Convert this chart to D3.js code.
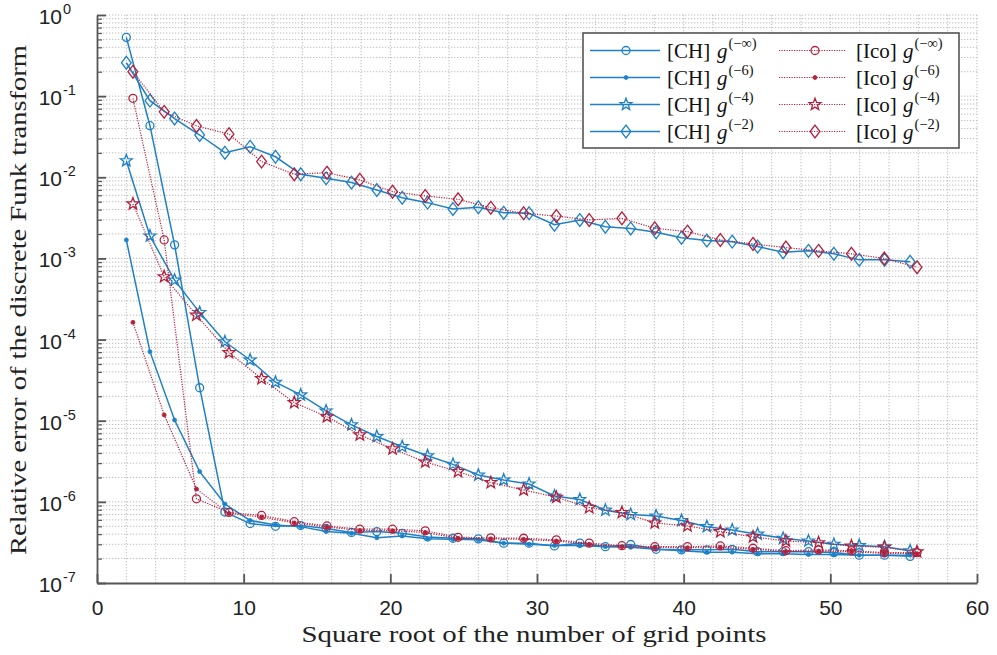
<!DOCTYPE html>
<html>
<head>
<meta charset="utf-8">
<script src="https://cdn.jsdelivr.net/npm/d3@7"></script>
<style>
  html, body { margin: 0; padding: 0; background: #fff; }
  svg { display: block; }
</style>
</head>
<body>
<svg id="chart" width="997" height="655"></svg>
<script>
// Abscissae: square root of the grid size for the two grid families
const xCH = [2.00, 3.61, 5.29, 7.00, 8.72, 10.44, 12.17, 13.89, 15.62, 17.35, 19.08, 20.81, 22.54, 24.27, 26.00, 27.73,
             29.46, 31.19, 32.92, 34.66, 36.39, 38.12, 39.85, 41.58, 43.31, 45.04, 46.78, 48.51, 50.24, 51.97, 53.70, 55.44];
const xIco = [2.45, 4.58, 6.78, 9.00, 11.22, 13.45, 15.68, 17.92, 20.15, 22.38, 24.62, 26.85, 29.09, 31.32, 33.56,
              35.79, 38.03, 40.26, 42.50, 44.73, 46.97, 49.20, 51.44, 53.68, 55.91];

// Relative errors, CH grids
const chInf = [0.53, 0.0432, 1.47e-3, 2.55e-5, 7.5e-7, 5.4e-7, 5.0e-7, 5.1e-7, 4.7e-7, 4.2e-7, 4.3e-7, 4.1e-7, 3.7e-7,
               3.56e-7, 3.5e-7, 3.1e-7, 3.1e-7, 2.86e-7, 3.1e-7, 2.8e-7, 2.98e-7, 2.6e-7, 2.56e-7, 2.56e-7, 2.6e-7,
               2.43e-7, 2.43e-7, 2.43e-7, 2.37e-7, 2.2e-7, 2.2e-7, 2.13e-7];
const chG6 = [1.69e-3, 7.1e-5, 1.02e-5, 2.36e-6, 9.4e-7, 5.9e-7, 5.2e-7, 4.95e-7, 4.3e-7, 4.1e-7, 3.6e-7, 3.8e-7, 3.5e-7,
              3.45e-7, 3.4e-7, 3.1e-7, 3.0e-7, 2.9e-7, 2.9e-7, 2.8e-7, 2.75e-7, 2.6e-7, 2.5e-7, 2.4e-7, 2.4e-7,
              2.3e-7, 2.3e-7, 2.25e-7, 2.25e-7, 2.2e-7, 2.2e-7, 2.2e-7];
const chG4 = [0.016, 1.89e-3, 5.4e-4, 2.15e-4, 9.4e-5, 5.6e-5, 2.98e-5, 2.08e-5, 1.32e-5, 8.9e-6, 6.4e-6, 4.8e-6, 3.7e-6,
              2.9e-6, 2.14e-6, 1.86e-6, 1.66e-6, 1.18e-6, 1.07e-6, 7.9e-7, 7.0e-7, 6.7e-7, 5.9e-7, 4.95e-7, 4.5e-7,
              4.0e-7, 3.55e-7, 3.3e-7, 3.0e-7, 2.9e-7, 2.8e-7, 2.5e-7];
const chG2 = [0.258, 0.088, 0.053, 0.0332, 0.0201, 0.0238, 0.0179, 0.0109, 0.0097, 0.0086, 0.00697, 0.0056, 0.00487,
              0.00407, 0.00427, 0.00366, 0.0036, 0.0026, 0.00298, 0.00246, 0.00234, 0.0021, 0.0018, 0.00166, 0.00161,
              0.0014, 0.00119, 0.00124, 0.00114, 0.00096, 0.00096, 0.00091];

// Relative errors, icosahedral grids
const icoInf = [0.094, 1.69e-3, 1.09e-6, 7.4e-7, 6.8e-7, 5.7e-7, 5.05e-7, 4.6e-7, 4.6e-7, 4.4e-7, 3.66e-7, 3.6e-7,
                3.56e-7, 3.4e-7, 3.1e-7, 2.88e-7, 2.8e-7, 2.8e-7, 2.86e-7, 2.68e-7, 2.5e-7, 2.56e-7, 2.5e-7, 2.37e-7, 2.37e-7];
const icoG6 = [1.63e-4, 1.18e-5, 1.44e-6, 7.2e-7, 6.5e-7, 5.5e-7, 4.9e-7, 4.45e-7, 4.4e-7, 4.2e-7, 3.55e-7, 3.5e-7,
               3.45e-7, 3.3e-7, 3.0e-7, 2.8e-7, 2.75e-7, 2.72e-7, 2.75e-7, 2.6e-7, 2.45e-7, 2.48e-7, 2.42e-7, 2.32e-7, 2.3e-7];
const icoG4 = [4.7e-3, 5.96e-4, 2.0e-4, 6.9e-5, 3.3e-5, 1.67e-5, 1.12e-5, 6.7e-6, 4.5e-6, 3.1e-6, 2.36e-6, 1.73e-6,
               1.4e-6, 1.14e-6, 8.5e-7, 7.4e-7, 5.5e-7, 5.05e-7, 4.3e-7, 3.7e-7, 3.3e-7, 3.14e-7, 2.86e-7, 2.75e-7, 2.43e-7];
const icoG2 = [0.2, 0.064, 0.043, 0.034, 0.0156, 0.0109, 0.0114, 0.0093, 0.00665, 0.00589, 0.00535, 0.00422, 0.0036,
               0.00333, 0.00298, 0.00312, 0.00235, 0.00214, 0.00169, 0.00151, 0.00136, 0.00124, 0.00114, 0.001, 0.00078];

// Axis ticks
const xTicks = [0, 10, 20, 30, 40, 50, 60];
const xMinor = [2, 4, 6, 8, 12, 14, 16, 18, 22, 24, 26, 28, 32, 34, 36, 38, 42, 44, 46, 48, 52, 54, 56, 58];
const yExponents = [0, -1, -2, -3, -4, -5, -6, -7];

const BLUE = "#1f80c6";
const RED = "#b3203c";

const series = [
  { group: "[CH]",  exp: "−∞", x: xCH,  y: chInf,  color: BLUE, dotted: false, marker: "circle" },
  { group: "[CH]",  exp: "−6", x: xCH,  y: chG6,   color: BLUE, dotted: false, marker: "dot" },
  { group: "[CH]",  exp: "−4", x: xCH,  y: chG4,   color: BLUE, dotted: false, marker: "star" },
  { group: "[CH]",  exp: "−2", x: xCH,  y: chG2,   color: BLUE, dotted: false, marker: "diamond" },
  { group: "[Ico]", exp: "−∞", x: xIco, y: icoInf, color: RED,  dotted: true,  marker: "circle" },
  { group: "[Ico]", exp: "−6", x: xIco, y: icoG6,  color: RED,  dotted: true,  marker: "dot" },
  { group: "[Ico]", exp: "−4", x: xIco, y: icoG4,  color: RED,  dotted: true,  marker: "star" },
  { group: "[Ico]", exp: "−2", x: xIco, y: icoG2,  color: RED,  dotted: true,  marker: "diamond" }
];

(function draw() {
  const svg = d3.select("#chart");
  const pL = 97, pR = 977, pT = 15, pB = 583;
  const sans = "'Liberation Sans', Arial, Helvetica, sans-serif";
  const serif = "'Liberation Serif', 'Times New Roman', serif";

  const x = d3.scaleLinear().domain([0, 60]).range([pL, pR]);
  const y = d3.scaleLog().domain([1e-7, 1]).range([pB, pT]);

  const yMajor = yExponents.map(e => Math.pow(10, e));
  const yMinor = [];
  for (let e = -7; e < 0; e++) for (let m = 2; m <= 9; m++) yMinor.push(m * Math.pow(10, e));

  // Grid (dotted, both minor and major)
  const grid = svg.append("g").attr("class", "grid")
    .attr("stroke", "#bdbdbd").attr("stroke-width", 1).attr("stroke-dasharray", "1.3,1.7");
  grid.selectAll("line.gx").data(xTicks.concat(xMinor).filter(v => v > 0)).join("line")
    .attr("x1", d => x(d)).attr("x2", d => x(d)).attr("y1", pT).attr("y2", pB);
  grid.selectAll("line.gy").data(yMajor.concat(yMinor).filter(v => v > 1e-7)).join("line")
    .attr("y1", d => y(d)).attr("y2", d => y(d)).attr("x1", pL).attr("x2", pR);

  // Axes
  const axisColor = "#555";
  const gx = svg.append("g").attr("transform", `translate(0,${pB})`)
    .call(d3.axisBottom(x).tickValues(xTicks).tickSizeInner(-9).tickSizeOuter(0).tickPadding(17).tickFormat(d3.format("d")));
  gx.select(".domain").attr("stroke", axisColor).attr("stroke-width", 1.8);
  gx.selectAll(".tick line").attr("stroke", axisColor).attr("stroke-width", 1.8);
  gx.selectAll(".tick text").attr("font-family", sans).attr("font-size", 21).attr("fill", "#222");

  const gyMinor = svg.append("g").attr("transform", `translate(${pL},0)`)
    .call(d3.axisLeft(y).tickValues(yMinor).tickSizeInner(-5).tickSizeOuter(0).tickFormat(""));
  gyMinor.select(".domain").remove();
  gyMinor.selectAll(".tick line").attr("stroke", axisColor).attr("stroke-width", 1.2);

  const gy = svg.append("g").attr("transform", `translate(${pL},0)`)
    .call(d3.axisLeft(y).tickValues(yMajor).tickSizeInner(-9).tickSizeOuter(0).tickFormat(""));
  gy.select(".domain").attr("stroke", axisColor).attr("stroke-width", 1.8);
  gy.selectAll(".tick line").attr("stroke", axisColor).attr("stroke-width", 1.8);

  // Power-of-ten labels
  const yl = svg.append("g").attr("font-family", sans).attr("fill", "#222");
  yExponents.forEach(e => {
    yl.append("text").attr("x", pL - 35).attr("y", y(Math.pow(10, e)) + 9)
      .attr("text-anchor", "end").attr("font-size", 21).text("10");
    yl.append("text").attr("x", pL - 34).attr("y", y(Math.pow(10, e)) - 1)
      .attr("font-size", 14.5).text(String(e));
  });

  // Axis titles
  svg.append("text").attr("x", (pL + pR) / 2 - 3).attr("y", 642)
    .attr("text-anchor", "middle").attr("font-family", serif).attr("font-size", 24)
    .attr("textLength", 465).attr("lengthAdjust", "spacingAndGlyphs").attr("fill", "#222")
    .text("Square root of the number of grid points");
  svg.append("text").attr("transform", `translate(26,${(pT + pB) / 2 + 1}) rotate(-90)`)
    .attr("text-anchor", "middle").attr("font-family", serif).attr("font-size", 24)
    .attr("textLength", 510).attr("lengthAdjust", "spacingAndGlyphs").attr("fill", "#222")
    .text("Relative error of the discrete Funk transform");

  // Marker shapes
  function starPath(R) {
    const r = R * 0.42, pts = [];
    for (let i = 0; i < 10; i++) {
      const a = -Math.PI / 2 + i * Math.PI / 5, rr = i % 2 ? r : R;
      pts.push([rr * Math.cos(a), rr * Math.sin(a)]);
    }
    return "M" + pts.map(p => p[0].toFixed(2) + "," + p[1].toFixed(2)).join("L") + "Z";
  }
  const markerPaths = {
    circle: d3.symbol().type(d3.symbolCircle).size(Math.PI * 16)(),
    dot: d3.symbol().type(d3.symbolCircle).size(Math.PI * 4)(),
    star: starPath(6.3),
    diamond: "M0,-6.4L4.9,0L0,6.4L-4.9,0Z"
  };
  function drawMarker(g, s, px, py) {
    g.append("path").attr("d", markerPaths[s.marker]).attr("transform", `translate(${px},${py})`)
      .attr("fill", s.marker === "dot" ? s.color : "none")
      .attr("stroke", s.color).attr("stroke-width", s.marker === "dot" ? 0.8 : 1.3);
  }

  // Series
  const line = d3.line().x(d => x(d[0])).y(d => y(d[1]));
  const plot = svg.append("g");
  series.forEach(s => {
    const pts = s.x.map((v, i) => [v, s.y[i]]);
    const g = plot.append("g");
    g.append("path").attr("d", line(pts)).attr("fill", "none").attr("stroke", s.color)
      .attr("stroke-width", s.dotted ? 1.2 : 1.5)
      .attr("stroke-dasharray", s.dotted ? "1.2,1.3" : null);
    pts.forEach(p => drawMarker(g, s, x(p[0]), y(p[1])));
  });

  // Legend
  const lg = svg.append("g");
  lg.append("rect").attr("x", 583).attr("y", 33).attr("width", 376).attr("height", 115)
    .attr("fill", "#fff").attr("stroke", "#555").attr("stroke-width", 1.6);
  series.forEach((s, i) => {
    const col = i < 4 ? 0 : 1, row = i % 4;
    const ly = 50.5 + row * 27;
    const x0 = col ? 779 : 590, x1 = col ? 846 : 660, xm = col ? 815 : 626;
    lg.append("line").attr("x1", x0).attr("x2", x1).attr("y1", ly).attr("y2", ly)
      .attr("stroke", s.color).attr("stroke-width", s.dotted ? 1.2 : 1.5)
      .attr("stroke-dasharray", s.dotted ? "1.2,1.3" : null);
    drawMarker(lg, s, xm, ly);
    const tx = col ? 856 : 667;
    const t = lg.append("text").attr("x", tx).attr("y", ly + 7).attr("font-family", serif)
      .attr("font-size", 21).attr("fill", "#111");
    t.append("tspan").text(s.group);
    t.append("tspan").attr("x", col ? 903 : 717).attr("font-style", "italic").text("g");
    t.append("tspan").attr("dx", 1).attr("dy", -10).attr("font-size", 14.5).text("(" + s.exp + ")");
  });
})();
</script>
</body>
</html>
